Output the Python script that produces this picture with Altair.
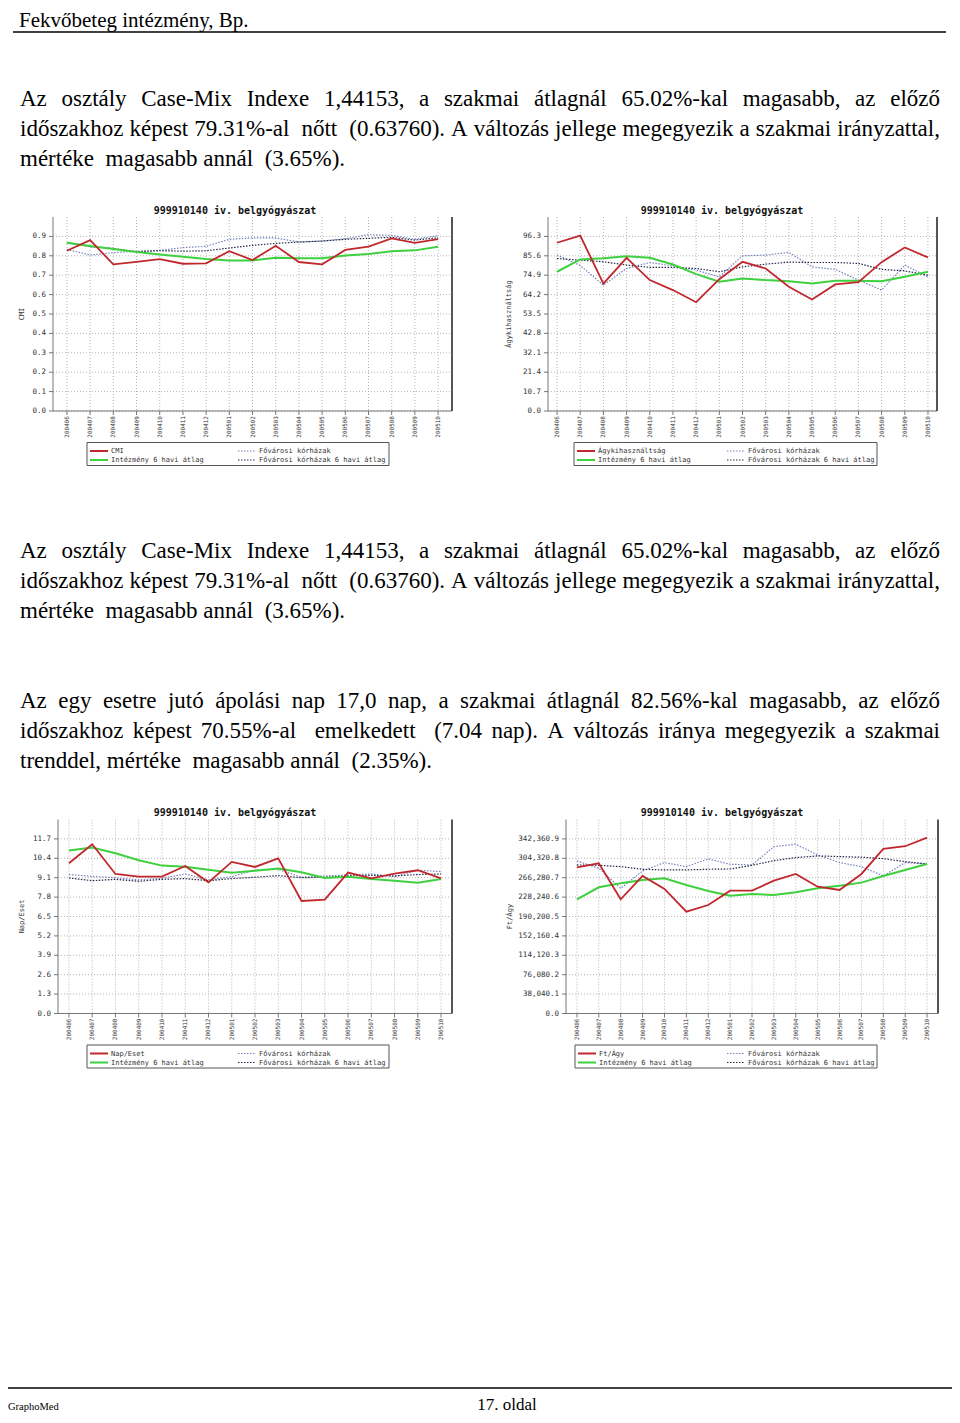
import altair as alt
import pandas as pd

# ---------------- data ----------------
MONTHS = ["200406", "200407", "200408", "200409", "200410", "200411", "200412",
          "200501", "200502", "200503", "200504", "200505", "200506", "200507",
          "200508", "200509", "200510"]

INST6_LBL = "Intézmény 6 havi átlag"
FOV_LBL = "Fővárosi kórházak"
FOV6_LBL = "Fővárosi kórházak 6 havi átlag"

# Chart 1: CMI
CMI = [0.826, 0.881, 0.756, 0.769, 0.783, 0.759, 0.761, 0.824, 0.778, 0.852, 0.768, 0.756, 0.830, 0.847, 0.890, 0.867, 0.886]
CMI_INST6 = [0.867, 0.850, 0.835, 0.819, 0.807, 0.795, 0.783, 0.776, 0.776, 0.790, 0.787, 0.787, 0.802, 0.809, 0.824, 0.828, 0.847]
CMI_FOV = [0.833, 0.804, 0.816, 0.824, 0.828, 0.842, 0.849, 0.885, 0.892, 0.892, 0.871, 0.876, 0.888, 0.909, 0.905, 0.885, 0.904]
CMI_FOV6 = [0.867, 0.847, 0.838, 0.821, 0.826, 0.824, 0.826, 0.840, 0.854, 0.864, 0.871, 0.876, 0.885, 0.890, 0.895, 0.881, 0.893]
CMI_TICKS = [0.0, 0.1, 0.2, 0.3, 0.4, 0.5, 0.6, 0.7, 0.8, 0.9]

# Chart 2: Ágykihasználtság
AGY = [92.8, 96.7, 70.3, 84.5, 72.2, 66.7, 60.0, 72.7, 82.3, 78.6, 68.5, 61.5, 69.8, 71.1, 82.1, 90.2, 84.7]
AGY_INST6 = [76.8, 83.6, 84.3, 85.3, 84.5, 80.8, 75.5, 71.3, 73.1, 72.2, 71.6, 70.3, 71.8, 71.8, 71.6, 74.0, 76.8]
AGY_FOV = [86.0, 80.3, 69.4, 78.6, 81.9, 80.1, 77.7, 74.0, 85.6, 86.0, 87.5, 79.5, 78.1, 72.2, 66.7, 80.5, 74.0]
AGY_FOV6 = [84.1, 83.2, 82.3, 80.5, 79.2, 79.2, 78.6, 76.8, 79.5, 81.0, 82.1, 81.9, 81.9, 81.4, 78.1, 77.3, 74.9]
AGY_TICKS = [0.0, 10.7, 21.4, 32.1, 42.8, 53.5, 64.2, 74.9, 85.6, 96.3]

# Chart 3: Nap/Eset
NAP = [10.07, 11.34, 9.35, 9.17, 9.17, 9.89, 8.79, 10.16, 9.82, 10.40, 7.54, 7.63, 9.44, 9.06, 9.37, 9.60, 9.06]
NAP_INST6 = [10.92, 11.12, 10.74, 10.27, 9.91, 9.84, 9.64, 9.44, 9.57, 9.71, 9.46, 9.08, 9.17, 9.02, 8.90, 8.77, 9.02]
NAP_FOV = [9.31, 9.19, 9.10, 8.95, 9.06, 9.35, 8.95, 9.17, 9.62, 9.66, 9.13, 9.22, 9.28, 9.35, 9.17, 9.60, 9.51]
NAP_FOV6 = [9.08, 8.90, 8.99, 8.86, 8.99, 9.04, 8.90, 9.04, 9.13, 9.24, 9.10, 9.13, 9.22, 9.26, 9.22, 9.31, 9.35]
NAP_TICKS = [0.0, 1.3, 2.6, 3.9, 5.2, 6.5, 7.8, 9.1, 10.4, 11.7]

# Chart 4: Ft/Ágy
FT = [286700, 294600, 223900, 269700, 244200, 199700, 212700, 240900, 240900, 260500, 273600, 248700, 242200, 273600, 322700, 328000, 345000]
FT_INST6 = [223900, 247400, 255300, 261800, 265100, 252000, 240200, 231100, 234300, 232400, 237600, 245500, 250700, 256600, 269700, 281500, 293300]
FT_FOV = [299200, 284800, 245500, 279500, 295900, 288000, 303100, 292600, 291300, 327300, 331900, 310900, 295900, 288000, 269700, 295900, 293300]
FT_FOV6 = [291300, 290600, 288000, 282800, 281500, 281500, 282800, 283400, 290600, 299800, 305700, 309000, 307700, 306400, 303700, 297800, 293300]
FT_TICKS = [0.0, 38040.1, 76080.2, 114120.3, 152160.4, 190200.5, 228240.6, 266280.7, 304320.8, 342360.9]

CHART_TITLE = "999910140 iv. belgyógyászat"

HEADER = "Fekvőbeteg intézmény, Bp."
PARA_CMI = ["Az osztály Case-Mix Indexe 1,44153, a szakmai átlagnál 65.02%-kal magasabb, az előző",
            "időszakhoz képest 79.31%-al  nőtt  (0.63760). A változás jellege megegyezik a szakmai irányzattal,",
            "mértéke  magasabb annál  (3.65%)."]
PARA_NAP = ["Az egy esetre jutó ápolási nap 17,0 nap, a szakmai átlagnál 82.56%-kal magasabb, az előző",
            "időszakhoz képest 70.55%-al  emelkedett  (7.04 nap). A változás iránya megegyezik a szakmai",
            "trenddel, mértéke  magasabb annál  (2.35%)."]
FOOT_LEFT = "GraphoMed"
FOOT_PAGE = "17. oldal"

# ---------------- styles ----------------
MONO = "DejaVu Sans Mono"
SERIF = "Liberation Serif"
RED = "#c0282d"
GREEN = "#3fd03f"
FOV_C = "#7482bd"
FOV6_C = "#26264a"
GRID_C = "#b4b4b4"
AX_C = "#777777"
LBL_C = "#333333"
ONE = pd.DataFrame({"k": [0]})
PAGE_W, PAGE_H = 944, 1407
PARA_SIZE = 23

# Times New Roman / Liberation Serif advance widths (1/1000 em), used to justify text lines
TNR = {" ": 250, "%": 833, "(": 333, ")": 333, ",": 250, "-": 333, ".": 250, "/": 278,
       "A": 722, "B": 667, "C": 667, "F": 556, "I": 333, "M": 889,
       "a": 444, "b": 500, "c": 444, "d": 500, "e": 444, "f": 333, "g": 500, "h": 500,
       "i": 278, "j": 278, "k": 500, "l": 278, "m": 778, "n": 500, "o": 500, "p": 500,
       "q": 500, "r": 333, "s": 389, "t": 278, "u": 500, "v": 500, "w": 722, "x": 500,
       "y": 500, "z": 444, "á": 444, "é": 444, "í": 278, "ó": 500, "ö": 500, "ő": 500,
       "ú": 500, "ü": 500, "ű": 500}


def tw(s, size):
    return sum(TNR.get(c, 500) for c in s) * size / 1000.0


def layout_line(line, x0, x1, y, size, justify):
    toks = line.split(" ")
    widths = [tw(t, size) for t in toks]
    if justify and len(toks) > 1:
        gap = (x1 - x0 - sum(widths)) / (len(toks) - 1)
    else:
        gap = 250 * size / 1000.0
    out, x = [], x0
    for t, w in zip(toks, widths):
        if t:
            out.append({"t": t, "x": x, "y": y})
        x += w + gap
    return out


def paragraph(lines, baselines, size=PARA_SIZE):
    rows = []
    for i, (ln, b) in enumerate(zip(lines, baselines)):
        rows += layout_line(ln, 12, 932, b, size, i < len(lines) - 1)
    return rows


def words_layer(rows, font, size, align="left", weight="normal", color="black", baseline="alphabetic"):
    return alt.Chart(pd.DataFrame(rows)).mark_text(
        font=font, fontSize=size, align=align, baseline=baseline, color=color, fontWeight=weight
    ).encode(
        x=alt.X("x:Q", scale=None, axis=None),
        y=alt.Y("y:Q", scale=None, axis=None),
        text="t:N",
    )


def hrule(x0, x1, y, width=1.5, color="black", dash=None):
    kw = dict(color=color, strokeWidth=width)
    if dash:
        kw["strokeDash"] = dash
    return alt.Chart(ONE).mark_rule(**kw).encode(x=alt.value(x0), x2=alt.value(x1), y=alt.value(y))


def vrule(x, y0, y1, width=1, color=AX_C):
    return alt.Chart(ONE).mark_rule(color=color, strokeWidth=width).encode(
        x=alt.value(x), y=alt.value(y0), y2=alt.value(y1))


# ---------------- one chart (plot box in page-content pixels) ----------------
def chart_layers(main_lbl, series, ymax, ticks, fmt, box, pad, ytitle_x, leg):
    x0, x1, y0, y1 = box
    xs = alt.Scale(type="point", domain=MONTHS, range=[x0, x1], padding=pad)
    ys = alt.Scale(domain=[0, ymax], range=[y1, y0], nice=False, zero=False)

    tick_df = pd.DataFrame({"v": ticks})
    month_df = pd.DataFrame({"m": MONTHS})

    layers = []
    # grid
    layers.append(alt.Chart(tick_df).mark_rule(color=GRID_C, strokeWidth=1, strokeDash=[1, 2]).encode(
        y=alt.Y("v:Q", scale=ys, axis=None), x=alt.value(x0), x2=alt.value(x1)))
    layers.append(alt.Chart(month_df).mark_rule(color=GRID_C, strokeWidth=1, strokeDash=[1, 2]).encode(
        x=alt.X("m:N", scale=xs, axis=None), y=alt.value(y0), y2=alt.value(y1)))
    # ticks
    layers.append(alt.Chart(tick_df).mark_rule(color=AX_C, strokeWidth=1).encode(
        y=alt.Y("v:Q", scale=ys, axis=None), x=alt.value(x0 - 4), x2=alt.value(x0)))
    layers.append(alt.Chart(month_df).mark_rule(color=AX_C, strokeWidth=1).encode(
        x=alt.X("m:N", scale=xs, axis=None), y=alt.value(y1), y2=alt.value(y1 + 4)))
    # axis lines
    layers.append(vrule(x0, y0, y1, 1, AX_C))
    layers.append(hrule(x0, x1, y1, 1, AX_C))
    # labels
    layers.append(alt.Chart(tick_df).mark_text(font=MONO, fontSize=7.5, align="right", baseline="middle",
                                               color=LBL_C).encode(
        y=alt.Y("v:Q", scale=ys, axis=None), x=alt.value(x0 - 7), text=alt.Text("v:Q", format=fmt)))
    layers.append(alt.Chart(month_df).mark_text(font=MONO, fontSize=6, align="right", baseline="middle",
                                                angle=270, color=LBL_C).encode(
        x=alt.X("m:N", scale=xs, axis=None), y=alt.value(y1 + 5), text="m:N"))
    layers.append(alt.Chart(ONE).mark_text(text=main_lbl, font=MONO, fontSize=7, align="center",
                                           baseline="middle", angle=270, color=LBL_C).encode(
        x=alt.value(ytitle_x), y=alt.value((y0 + y1) / 2)))

    # series
    names = [main_lbl, INST6_LBL, FOV_LBL, FOV6_LBL]
    rows = [{"month": m, "value": v, "series": n}
            for n, vals in zip(names, series) for m, v in zip(MONTHS, vals)]
    df = pd.DataFrame(rows)

    def ser(name, color, sw, dash=None):
        kw = dict(color=color, strokeWidth=sw)
        if dash:
            kw["strokeDash"] = dash
        return alt.Chart(df).transform_filter(
            alt.FieldEqualPredicate(field="series", equal=name)
        ).mark_line(**kw).encode(
            x=alt.X("month:N", scale=xs, axis=None),
            y=alt.Y("value:Q", scale=ys, axis=None))

    layers += [ser(FOV_LBL, FOV_C, 1.2, [1.5, 1.5]), ser(FOV6_LBL, FOV6_C, 1.2, [1.5, 1.5]),
               ser(INST6_LBL, GREEN, 2), ser(main_lbl, RED, 1.8)]

    # right border
    layers.append(vrule(x1, y0, y1, 2, "#555555"))

    # legend
    lx0, lx1, sx1, sx2 = [x0 + v for v in leg]
    r1, r2 = y0 + 234, y0 + 243
    layers.append(alt.Chart(ONE).mark_rect(fill="white", stroke="#555555", strokeWidth=1).encode(
        x=alt.value(lx0), x2=alt.value(lx1), y=alt.value(y0 + 225.5), y2=alt.value(y0 + 248.5)))

    def ltext(x, y, txt):
        return alt.Chart(ONE).mark_text(text=txt, font=MONO, fontSize=7, align="left", baseline="middle",
                                        color=LBL_C).encode(x=alt.value(x), y=alt.value(y))

    layers += [
        hrule(sx1, sx1 + 18, r1, 2, RED), ltext(sx1 + 21, r1, main_lbl),
        hrule(sx1, sx1 + 18, r2, 2, GREEN), ltext(sx1 + 21, r2, INST6_LBL),
        hrule(sx2, sx2 + 18, r1, 1.2, FOV_C, [1.5, 1.5]), ltext(sx2 + 21, r1, FOV_LBL),
        hrule(sx2, sx2 + 18, r2, 1.2, FOV6_C, [1.5, 1.5]), ltext(sx2 + 21, r2, FOV6_LBL),
    ]
    return layers


# plot boxes in content pixels (page minus the 8px margin)
c1 = chart_layers("CMI", [CMI, CMI_INST6, CMI_FOV, CMI_FOV6], 1.0, CMI_TICKS, ".1f",
                  (45, 444, 209, 403), 0.6, 14, (34, 336, 37, 185))
c2 = chart_layers("Ágykihasználtság", [AGY, AGY_INST6, AGY_FOV, AGY_FOV6], 107.0, AGY_TICKS, ".1f",
                  (540, 929, 209, 403), 0.39, 501, (26, 329, 29, 179))
c3 = chart_layers("Nap/Eset", [NAP, NAP_INST6, NAP_FOV, NAP_FOV6], 13.0, NAP_TICKS, ".1f",
                  (50, 444, 811.5, 1005.5), 0.47, 14, (29, 331, 32, 180))
c4 = chart_layers("Ft/Ágy", [FT, FT_INST6, FT_FOV, FT_FOV6], 380401.0, FT_TICKS, ",.1f",
                  (558, 930, 811.5, 1005.5), 0.5, 502, (9, 311, 12, 161))

titles = [{"t": CHART_TITLE, "x": 227, "y": 203}, {"t": CHART_TITLE, "x": 714, "y": 203},
          {"t": CHART_TITLE, "x": 227, "y": 804.5}, {"t": CHART_TITLE, "x": 714, "y": 804.5}]

text_layers = [
    words_layer([{"t": HEADER, "x": 11, "y": 19}], SERIF, 21),
    hrule(5, 938, 24, 1.5),
    words_layer(paragraph(PARA_CMI, [98, 128, 158]), SERIF, PARA_SIZE),
    words_layer(paragraph(PARA_CMI, [550, 580, 610]), SERIF, PARA_SIZE),
    words_layer(paragraph(PARA_NAP, [700, 730, 760]), SERIF, PARA_SIZE),
    words_layer(titles, MONO, 10, align="center", weight="bold", color="#111111", baseline="middle"),
    hrule(0, 944, 1380, 1.5),
    words_layer([{"t": FOOT_LEFT, "x": 0, "y": 1402}], SERIF, 10.5),
    words_layer([{"t": FOOT_PAGE, "x": 499, "y": 1402}], SERIF, 17, align="center"),
]

page = alt.layer(*(text_layers + c1 + c2 + c3 + c4)).resolve_scale(
    x="independent", y="independent"
).properties(
    width=PAGE_W, height=PAGE_H, padding=0, autosize=alt.AutoSizeParams(type="none")
).configure_view(stroke="transparent")

page.save("out.html", embed_options={"renderer": "svg", "actions": False})
